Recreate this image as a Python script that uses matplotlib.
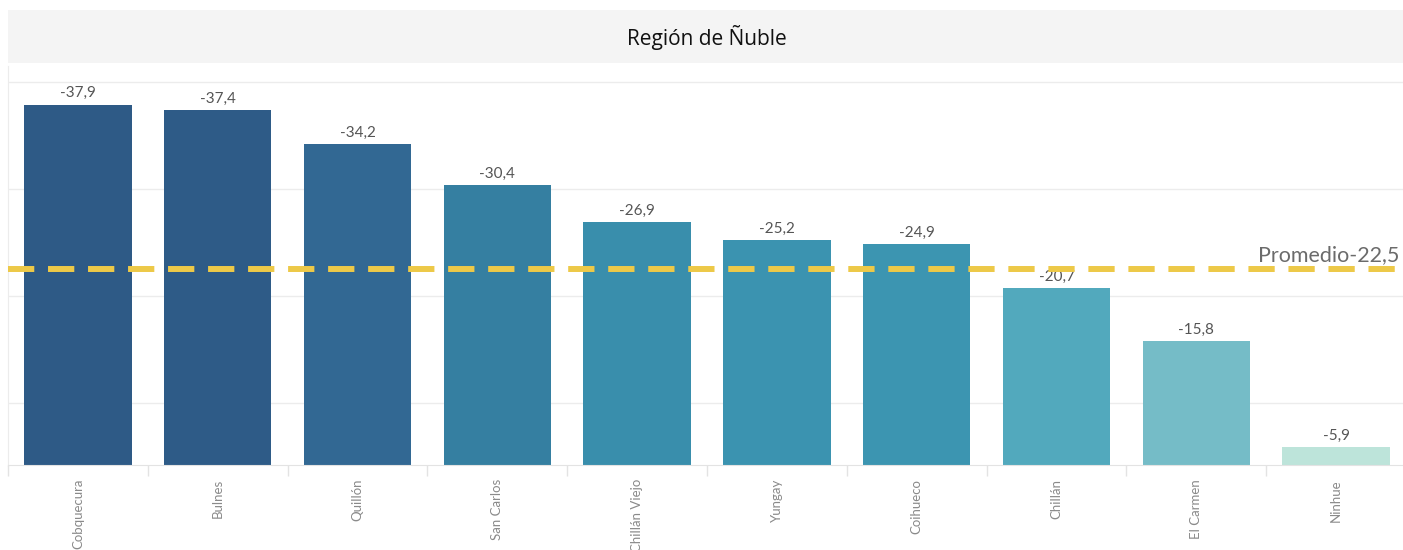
import matplotlib
matplotlib.use("Agg")
import matplotlib.pyplot as plt
import numpy as np
from matplotlib.patches import Rectangle

categories = ["Cobquecura", "Bulnes", "Quillón", "San Carlos", "Chillán Viejo",
              "Yungay", "Coihueco", "Chillán", "El Carmen", "Ninhue"]
values = [-37.9, -37.4, -34.2, -30.4, -26.9, -25.2, -24.9, -20.7, -15.8, -5.9]
colors = ["#2e5a86", "#2e5b87", "#326893", "#357fa1", "#398eac",
          "#3b93b0", "#3c95b1", "#52a9bd", "#75bcc7", "#bde4da"]
average = -22.5
title = "Región de Ñuble"

W, H = 1403, 550
fig = plt.figure(figsize=(W / 100, H / 100), dpi=100)
fig.patch.set_facecolor("white")

# Title band
fig.patches.append(Rectangle((8 / W, 1 - 63 / H), (W - 8) / W, 53 / H,
                             transform=fig.transFigure, facecolor="#f4f4f4",
                             edgecolor="none", zorder=0))
fig.text(707 / W, 1 - 38 / H, title, ha="center", va="center",
         fontsize=15, family="Open Sans", color="#111111")

ax = fig.add_axes([8 / W, (H - 465) / H, 1398 / W, (465 - 66) / H])
base = -4.2
ax.set_ylim(base, -41.5)
ax.set_xlim(-0.5, len(categories) - 0.5)

x = np.arange(len(categories))
vals = np.array(values)
ax.bar(x, vals - base, bottom=base, width=0.767, color=colors, zorder=2)

for xi, v in zip(x, vals):
    ax.annotate(f"{v:.1f}".replace(".", ","), (xi, v), xytext=(0, 3),
                textcoords="offset points", ha="center", va="bottom",
                fontsize=11, color="#555555", family="Lato")

ax.axhline(average, color="#EDC948", lw=4.3, dashes=(4.4, 2.3),
           dash_capstyle="butt", zorder=3)
ax.text(1391 / 1398, average - 0.75, "Promedio" + f"{average:.1f}".replace(".", ","),
        transform=ax.get_yaxis_transform(), ha="right", va="baseline",
        fontsize=15.5, color="#6b6b6b", family="Lato")

ax.set_yticks([-10, -20, -30, -40])
ax.yaxis.grid(True, color="#ececec", lw=1)
ax.set_axisbelow(True)
ax.tick_params(axis="y", left=False, labelleft=False)

ax.set_xticks(x)
ax.set_xticklabels(categories, rotation=90, fontsize=9.5, color="#8a8a8a",
                   family="Lato", va="top")
ax.set_xticks(np.arange(len(categories) + 1) - 0.5, minor=True)
ax.tick_params(axis="x", which="major", length=0, pad=10)
ax.tick_params(axis="x", which="minor", length=8, color="#e3e3e3", width=1)

for s in ["top", "right"]:
    ax.spines[s].set_visible(False)
ax.spines["left"].set_color("#ececec")
ax.spines["bottom"].set_color("#e3e3e3")

fig.savefig("out.png", dpi=100)
